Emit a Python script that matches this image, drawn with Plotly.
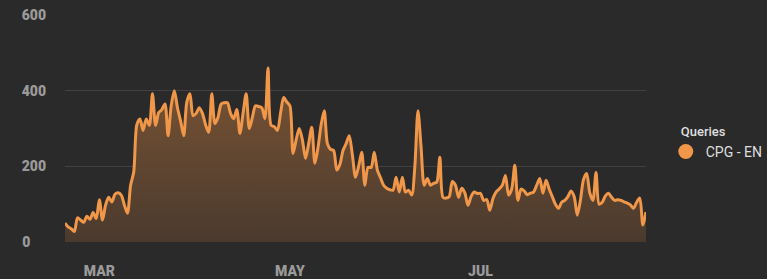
import plotly.graph_objects as go
import pandas as pd

start_date = "2020-02-19"
queries_cpg_en = [
    50, 40, 35, 28, 64, 58, 52, 68, 60, 78,
    62, 112, 58, 98, 118, 106, 126, 130, 124, 98,
    76, 150, 185, 310, 325, 295, 325, 308, 392, 308,
    342, 350, 365, 281, 360, 400, 355, 320, 281, 370,
    392, 334, 340, 355, 340, 310, 290, 392, 313, 330,
    365, 368, 368, 340, 326, 350, 287, 340, 392, 300,
    330, 360, 358, 355, 326, 460, 308, 305, 295, 340,
    382, 370, 360, 234, 270, 300, 270, 221, 260, 303,
    208, 250, 310, 347, 260, 245, 242, 190, 205, 242,
    260, 281, 230, 171, 200, 237, 150, 197, 197, 237,
    190, 170, 150, 142, 138, 137, 171, 132, 171, 132,
    137, 124, 200, 347, 250, 150, 168, 150, 155, 158,
    224, 118, 116, 120, 160, 150, 118, 142, 130, 97,
    120, 132, 128, 129, 110, 112, 84, 115, 132, 140,
    150, 176, 124, 140, 203, 110, 140, 135, 125, 129,
    132, 150, 168, 129, 163, 140, 120, 100, 89, 105,
    110, 120, 135, 120, 71, 110, 165, 181, 130, 110,
    184, 100, 105, 122, 129, 118, 110, 112, 110, 106,
    103, 98, 89, 105, 116, 45, 79,
]
dates = pd.date_range(start_date, periods=len(queries_cpg_en), freq="D")

x_tick_dates = ["2020-03-01", "2020-05-01", "2020-07-01"]
x_tick_labels = ["MAR", "MAY", "JUL"]
y_tick_vals = [0, 200, 400, 600]
y_tick_labels = ["0\u2007\u2007", "200", "400", "600"]
series_name = "CPG - EN"
legend_title = "Queries"

BG = "#2a2a2a"
LINE = "#f0974a"

fig = go.Figure()
fig.add_trace(go.Scatter(
    x=dates, y=queries_cpg_en, mode="lines",
    line=dict(color=LINE, width=3, shape="spline", smoothing=0.8),
    fill="tozeroy",
    fillgradient=dict(type="vertical",
                      colorscale=[[0, "rgb(74,58,46)"], [1, "rgb(124,85,52)"]],
                      start=0, stop=470),
    showlegend=False, hoverinfo="skip",
))
fig.add_trace(go.Scatter(
    x=[None], y=[None], mode="markers", name=series_name,
    marker=dict(color=LINE, size=15, symbol="circle"),
))

fig.update_layout(
    width=767, height=279,
    paper_bgcolor=BG, plot_bgcolor=BG,
    margin=dict(l=65, r=121, t=15, b=37, autoexpand=False),
    font=dict(family="Roboto, Arial, sans-serif", color="#9a9a9a"),
    legend=dict(
        title=dict(text="\u00a0\u00a0\u00a0\u00a0" + legend_title, font=dict(size=13, color="#dedede", family="Roboto Medium, Roboto, sans-serif")),
        font=dict(size=14, color="#dedede"),
        x=1.034, xanchor="left", y=0.542, yanchor="top",
        bgcolor="rgba(0,0,0,0)", itemwidth=30,
    ),
    xaxis=dict(
        range=[dates[0], dates[-1]],
        tickvals=x_tick_dates, ticktext=x_tick_labels,
        showgrid=False, zeroline=False, showline=False, ticks="",
        tickfont=dict(size=14, color="#9a9a9a", family="Roboto Black, Roboto, sans-serif"),
        ticklabelstandoff=19, automargin=False,
    ),
    yaxis=dict(
        range=[0, 600],
        tickvals=y_tick_vals, ticktext=y_tick_labels,
        showgrid=True, gridcolor="#414141", gridwidth=1,
        zeroline=False, showline=False, ticks="",
        tickfont=dict(size=14, color="#9a9a9a", family="Roboto Black, Roboto, sans-serif"),
        ticklabelstandoff=18, automargin=False,
    ),
)
fig.write_html("out.html", config={"displayModeBar": False},
               post_script="document.body.style.margin='0';document.body.style.background='#2a2a2a';")
